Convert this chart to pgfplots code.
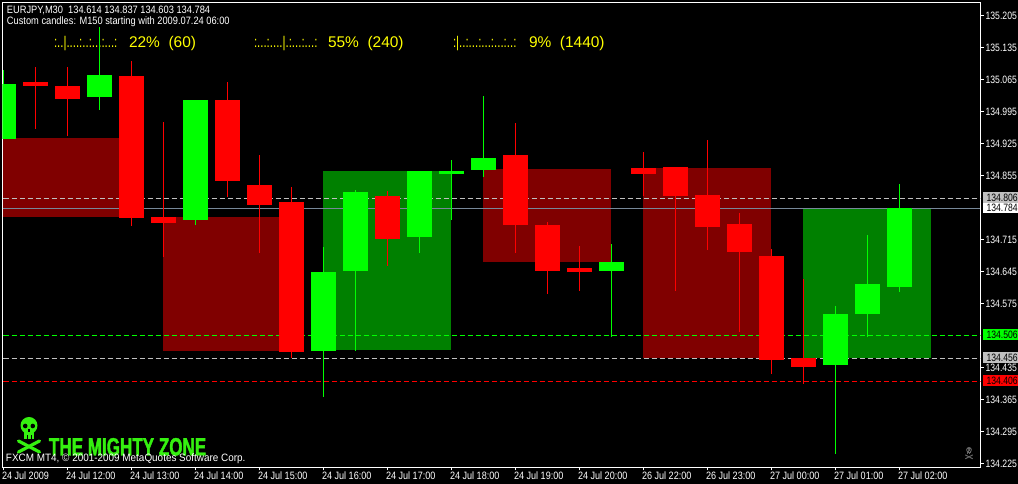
\documentclass[border=0pt]{standalone}
\usepackage{fontspec}
\usepackage{pgfplots}
\usepackage{pgfplotstable}
\pgfplotsset{compat=1.18}
\setmainfont[FakeStretch=0.81]{Liberation Sans}
\newfontfamily\xlabfont[FakeStretch=0.85]{Liberation Sans}
\newfontfamily\headfont[FakeStretch=0.87]{Liberation Sans}
\newfontfamily\footfont[FakeStretch=0.93]{Liberation Sans}
\newfontfamily\ylfont{Liberation Sans}
\newfontfamily\scalefont[FakeStretch=0.74]{Liberation Sans}
\newfontfamily\logofont[FakeStretch=0.68,FakeBold=1.5]{Liberation Sans}
\definecolor{mtlime}{HTML}{00FF00}
\definecolor{mtred}{HTML}{FF0000}
\definecolor{mtdkred}{HTML}{800000}
\definecolor{mtdkgreen}{HTML}{008000}
\definecolor{mtsilver}{HTML}{C0C0C0}
\definecolor{mtslate}{HTML}{778899}
\definecolor{mtlogo}{HTML}{35F010}
\definecolor{mtyellow}{HTML}{FFFF00}

% k = bar index, wlo/whi = wick low/high, blo/bhi = body low/high
\pgfplotstableread{
k  wlo      whi      blo      bhi
1  134.9578 135.0934 135.0519 135.0606
2  134.9425 135.0934 135.0234 135.0519
4  134.7456 135.1066 134.7631 135.0738
5  134.6778 134.9731 134.7522 134.7653
7  134.8091 135.0606 134.8441 135.0213
8  134.6866 134.9009 134.7916 134.8353
9  134.4569 134.8309 134.4700 134.7981
12 134.6581 134.8222 134.7172 134.8113
16 134.6866 134.9709 134.7478 134.9009
17 134.5969 134.7544 134.6472 134.7478
18 134.6034 134.7019 134.6450 134.6538
20 134.8113 134.9075 134.8594 134.8725
21 134.6034 134.8747 134.8113 134.8747
22 134.6931 134.9338 134.7434 134.8134
23 134.5138 134.7741 134.6888 134.7500
24 134.4219 134.6953 134.4525 134.6800
25 134.4000 134.6297 134.4372 134.4569
}\redbars
\pgfplotstableread{
k  wlo      whi      blo      bhi
0  134.9359 135.0869 134.9359 135.0563
3  134.9994 135.1809 135.0278 135.0759
6  134.7478 135.0213 134.7588 135.0213
10 134.3716 134.6997 134.4722 134.6450
11 134.4722 134.8244 134.6472 134.8200
13 134.6866 134.8659 134.7216 134.8659
14 134.7588 134.8900 134.8594 134.8659
15 134.8528 135.0300 134.8681 134.8944
19 134.5028 134.7063 134.6472 134.6669
26 134.2469 134.5706 134.4416 134.5531
27 134.5028 134.7259 134.5531 134.6188
28 134.6013 134.8370 134.6122 134.7840
}\greenbars

\pgfplotsset{
  wick/.style={draw=none,no markers,forget plot,
    error bars/.cd,y dir=plus,y explicit,error mark=none,
    error bar style={#1,line width=0.75pt,line cap=butt,solid}},
  body/.style={draw=none,no markers,forget plot,
    error bars/.cd,y dir=plus,y explicit,error mark=none,
    error bar style={#1,line width=18.75pt,line cap=butt,solid}},
}

% skull and crossbones logo: #1 = colour, #2 = bone width, origin at top-left, 24x36 units
\newcommand{\skull}[2]{%
  \draw[#1,line width=#2,line cap=round] (1.5,-24) -- (22.5,-35);
  \draw[#1,line width=#2,line cap=round] (22.5,-24) -- (1.5,-35);
  \fill[#1] (12,-8.5) ellipse (8.5 and 8.5);
  \fill[#1] (7,-14) rectangle (17,-22);
  \fill[black] (8.2,-9) circle (2.3);
  \fill[black] (15.8,-9) circle (2.3);
  \fill[black] (11.2,-12.5) rectangle (12.8,-15);
  \fill[black] (9.7,-18.5) rectangle (10.5,-22);
  \fill[black] (13.5,-18.5) rectangle (14.3,-22);
}

\begin{document}
\begin{tikzpicture}[x=0.75pt,y=0.75pt,every node/.style={inner sep=0pt,outer sep=0pt}]
\path[use as bounding box] (0,0) rectangle (1018,484);
\fill[black] (0,0) rectangle (1018,484);

% header text
\node[anchor=base west,text=white,font=\headfont\fontsize{8}{9}\selectfont] at (7,470) {EURJPY,M30\ \ 134.614 134.837 134.603 134.784};
\node[anchor=base west,text=white,font=\headfont\fontsize{8}{9}\selectfont] at (7,459.5) {Custom candles: M150 starting with 2009.07.24 06:00};

% multi-timeframe progress texts
\begin{scope}[every node/.append style={text=mtyellow,anchor=base west}]
\node[font=\scalefont\fontsize{11.6}{13}\selectfont] at (54,436.5) {:..|....:..:...:...:};
\node[font=\ylfont\fontsize{11.6}{13}\selectfont] at (129,436.5) {22\%\ \ (60)};
\node[font=\scalefont\fontsize{11.6}{13}\selectfont] at (254,436.5) {:...:....|.:...:...:};
\node[font=\ylfont\fontsize{11.6}{13}\selectfont] at (328,436.5) {55\%\ \ (240)};
\node[font=\scalefont\fontsize{11.6}{13}\selectfont] at (453,436.5) {:|..:...:...:...:..:};
\node[font=\ylfont\fontsize{11.6}{13}\selectfont] at (529,436.5) {9\%\ \ (1440)};
\end{scope}

\begin{axis}[
  at={(1.875pt,12.375pt)},anchor=south west,
  scale only axis,width=733.5pt,height=348.75pt,
  xmin=-0.03125,xmax=30.53125,
  ymin=134.2173,ymax=135.2345,
  axis line style={white,line width=0.75pt},
  clip=true,
  tick align=outside,
  major tick length=2.25pt,
  tick style={white,line width=0.75pt},
  xtick pos=bottom,ytick pos=right,
  xtick={0,2,...,28},
  xticklabels={24 Jul 2009,24 Jul 12:00,24 Jul 13:00,24 Jul 14:00,24 Jul 15:00,24 Jul 16:00,24 Jul 17:00,24 Jul 18:00,24 Jul 19:00,24 Jul 20:00,26 Jul 22:00,26 Jul 23:00,27 Jul 00:00,27 Jul 01:00,27 Jul 02:00},
  ytick={134.225,134.295,134.365,134.435,134.575,134.645,134.715,134.855,134.925,134.995,135.065,135.135,135.205},
  yticklabel pos=right,
  tick label style={text=white,inner sep=0pt},
  xticklabel style={font=\xlabfont\fontsize{8}{9}\selectfont,anchor=north west,xshift=-1.1pt,yshift=-1.2pt},
  yticklabel style={font=\fontsize{8}{9}\selectfont,anchor=west,xshift=1.6pt,
    /pgf/number format/fixed,/pgf/number format/fixed zerofill,
    /pgf/number format/precision=3,/pgf/number format/1000 sep={},
    /pgf/number format/assume math mode=true},
  scaled y ticks=false,
]
% M150 custom candles
\addplot[fill=mtdkred,draw=none,forget plot] coordinates {(-0.016,134.7653)(3.984,134.7653)(3.984,134.9381)(-0.016,134.9381)} -- cycle;
\addplot[fill=mtdkred,draw=none,forget plot] coordinates {(4.984,134.4722)(8.984,134.4722)(8.984,134.7653)(4.984,134.7653)} -- cycle;
\addplot[fill=mtdkgreen,draw=none,forget plot] coordinates {(9.984,134.4744)(13.984,134.4744)(13.984,134.8659)(9.984,134.8659)} -- cycle;
\addplot[fill=mtdkred,draw=none,forget plot] coordinates {(14.984,134.6669)(18.984,134.6669)(18.984,134.8703)(14.984,134.8703)} -- cycle;
\addplot[fill=mtdkred,draw=none,forget plot] coordinates {(19.984,134.4569)(23.984,134.4569)(23.984,134.8725)(19.984,134.8725)} -- cycle;
\addplot[fill=mtdkgreen,draw=none,forget plot] coordinates {(24.984,134.4569)(28.984,134.4569)(28.984,134.7840)(24.984,134.7840)} -- cycle;
% price lines
\addplot[mtsilver,line width=0.75pt,dash pattern=on 3.75pt off 2.25pt,forget plot] coordinates {(0,134.806)(30.53,134.806)};
\addplot[mtslate,line width=0.75pt,forget plot] coordinates {(-0.03,134.784)(30.53,134.784)};
\addplot[mtlime,line width=0.75pt,dash pattern=on 3.75pt off 2.25pt,forget plot] coordinates {(0,134.506)(30.53,134.506)};
\addplot[mtsilver,line width=0.75pt,dash pattern=on 3.75pt off 2.25pt,forget plot] coordinates {(0,134.456)(30.53,134.456)};
\addplot[mtred,line width=0.75pt,dash pattern=on 3.75pt off 2.25pt,forget plot] coordinates {(0,134.406)(30.53,134.406)};
% wicks
\addplot[wick=mtred] table[x=k,y=wlo,y error plus expr=\thisrow{whi}-\thisrow{wlo}] {\redbars};
\addplot[wick=mtlime] table[x=k,y=wlo,y error plus expr=\thisrow{whi}-\thisrow{wlo}] {\greenbars};
% bodies
\addplot[body=mtred] table[x=k,y=blo,y error plus expr=\thisrow{bhi}-\thisrow{blo}] {\redbars};
\addplot[body=mtlime] table[x=k,y=blo,y error plus expr=\thisrow{bhi}-\thisrow{blo}] {\greenbars};
\end{axis}

% logo and footer
\begin{scope}[shift={(17,67)}]\skull{mtlogo}{2.4pt}\end{scope}
\node[anchor=base west,text=mtlogo,font=\logofont\bfseries\fontsize{18.8}{20}\selectfont] at (49,28.5) {THE MIGHTY ZONE};
\node[anchor=base west,text=white,font=\footfont\fontsize{8}{9}\selectfont] at (6,22) {FXCM MT4, © 2001-2009 MetaQuotes Software Corp.};
\begin{scope}[shift={(965,37)},x=0.25pt,y=0.25pt]\skull{black!60}{0.7pt}\end{scope}

% current-price tags on the scale
\foreach \ytop/\ybot/\col/\lab in {192/203/mtsilver/134.806,203/213/white/134.784,329.5/340/mtlime/134.506,352/363/mtsilver/134.456,375.5/386/mtred/134.406}{
  \fill[\col] (983,484-\ytop) rectangle (1018,484-\ybot);
  \node[anchor=base west,text=black,font=\fontsize{8}{9}\selectfont] at (986.5,484-\ybot+1.5) {\lab};
}
\end{tikzpicture}
\end{document}
